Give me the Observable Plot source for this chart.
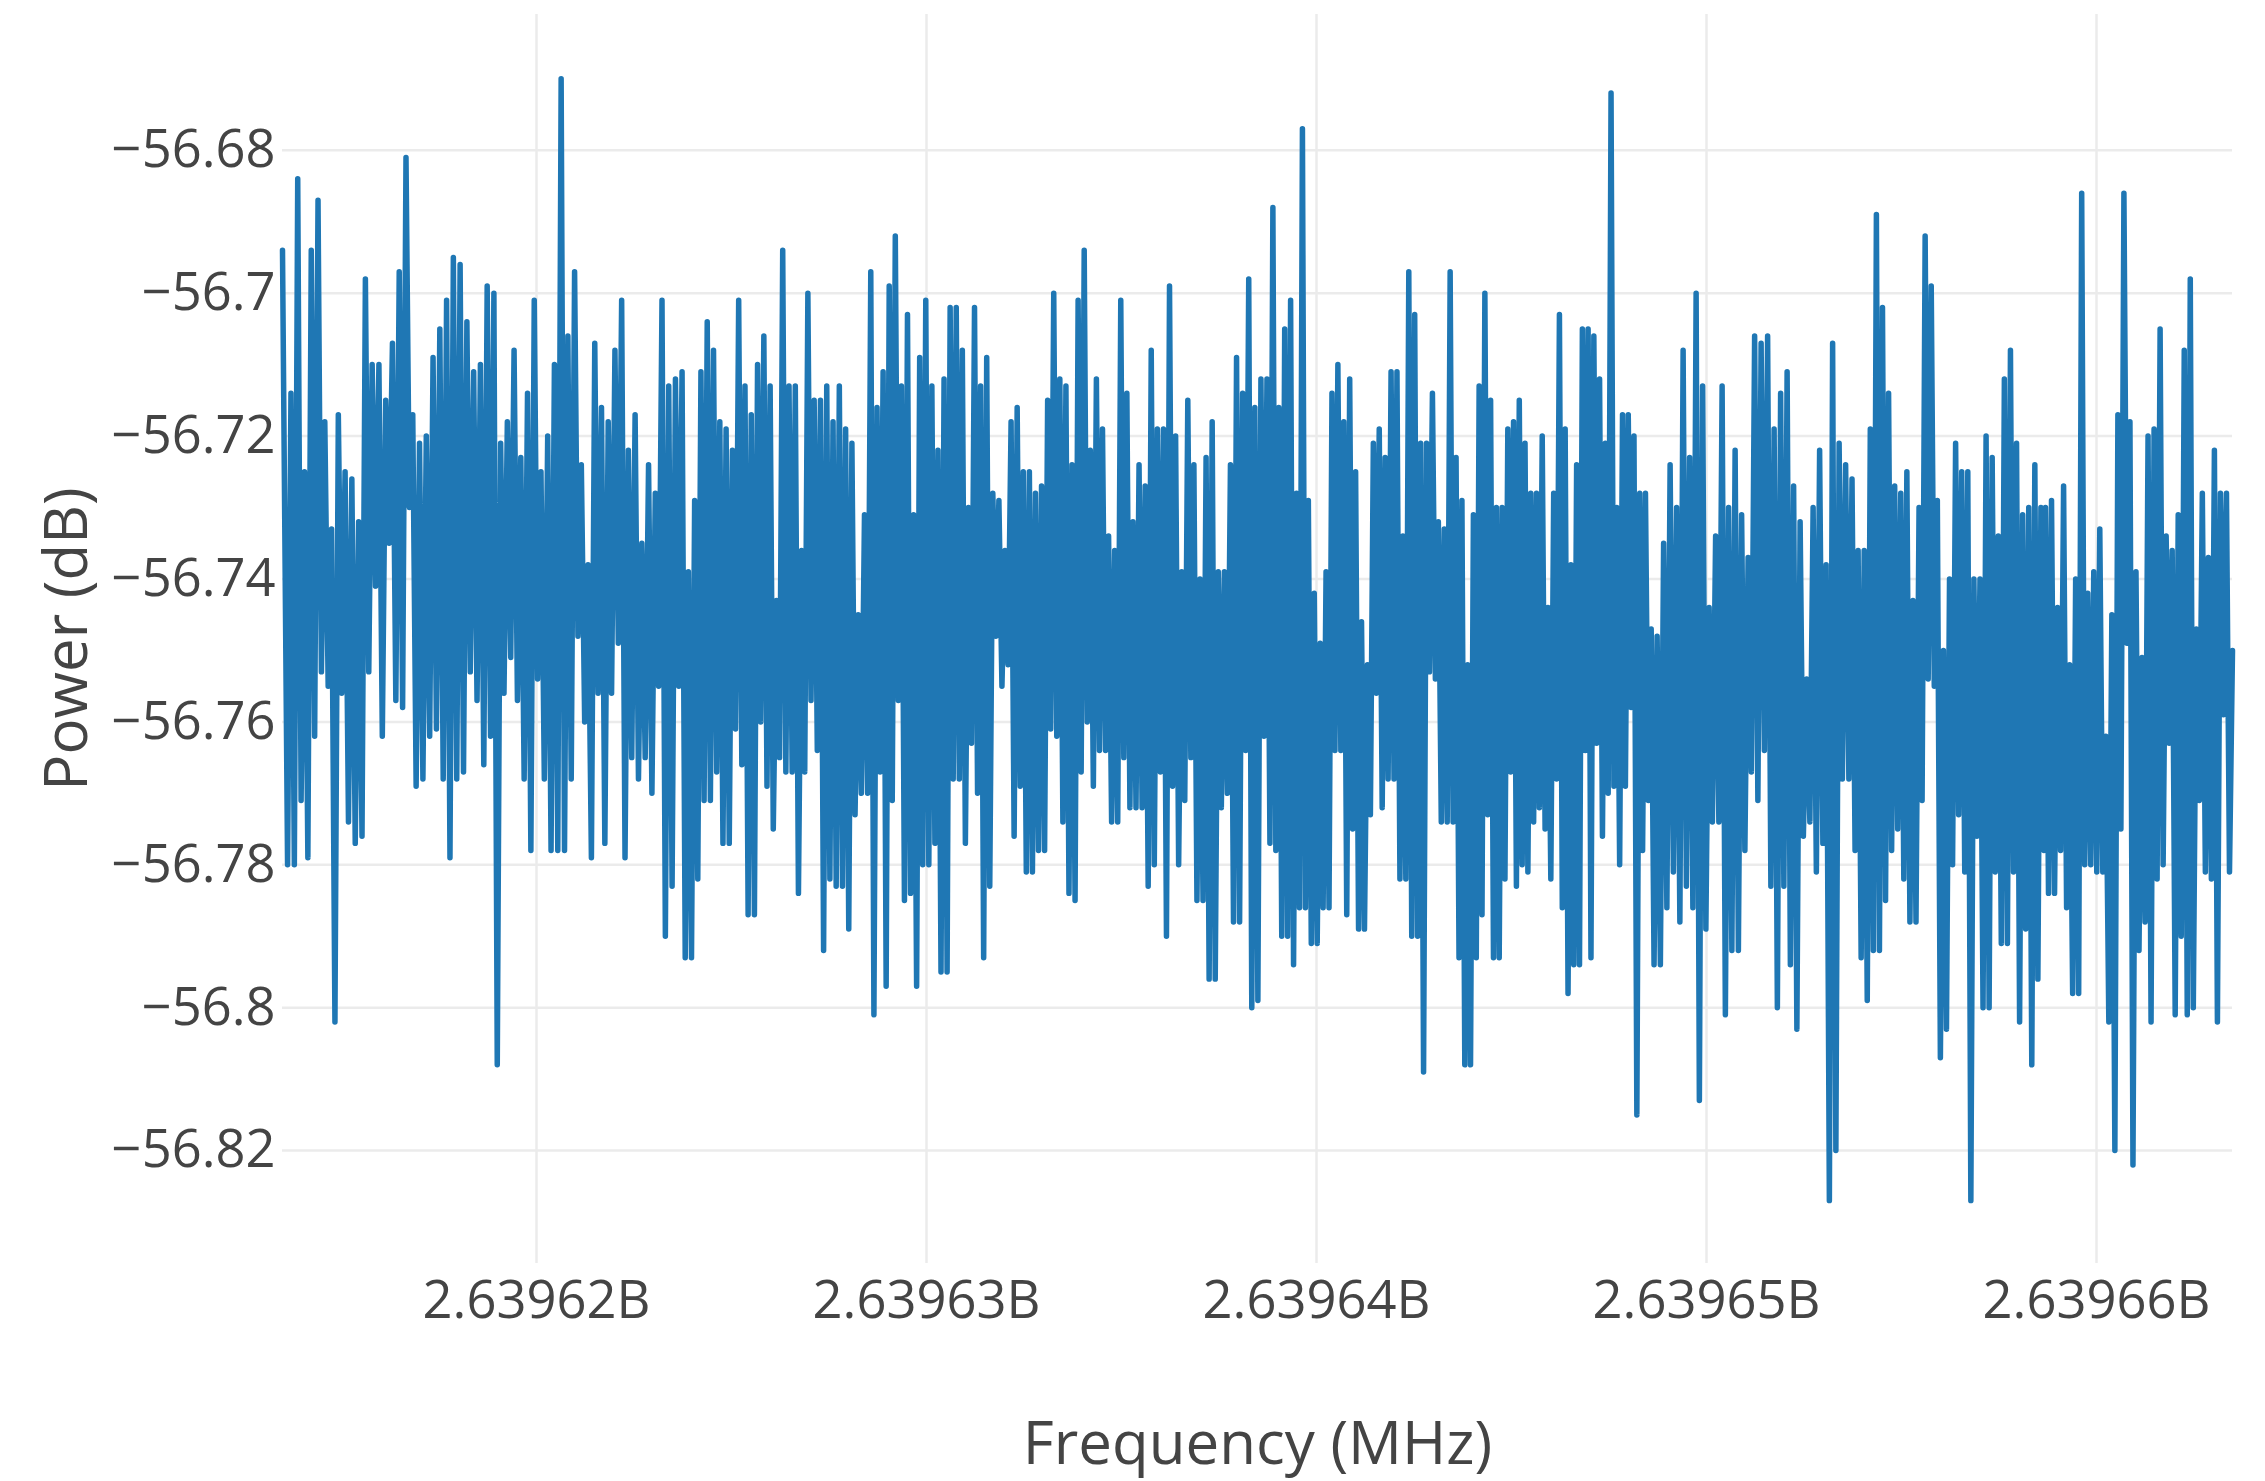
<!DOCTYPE html>
<html><head><meta charset="utf-8">
<script src="https://cdn.jsdelivr.net/npm/d3@7"></script>
<script src="https://cdn.jsdelivr.net/npm/@observablehq/plot@0.6"></script>
<style>body{margin:0;background:#fff;}</style>
</head><body><div id="chart"></div>
<script>
// Frequency band edges (Hz) of the ten stretches read below; samples are evenly spaced within each band
const bandEdges = [2639613487, 2639618692, 2639623692, 2639628692, 2639633692, 2639638692,
  2639643692, 2639648692, 2639653692, 2639658692, 2639663487];

// Power (dB), read left to right from the picture, in ten bands
const seg1 = [-56.694,-56.780,-56.714,-56.780,-56.684,-56.771,-56.725,-56.779,-56.694,-56.762,
-56.687,-56.753,-56.718,-56.755,-56.733,-56.802,-56.717,-56.756,-56.725,-56.774,
-56.726,-56.777,-56.732,-56.776,-56.698,-56.753,-56.710,-56.741,-56.710,-56.762,
-56.715,-56.735,-56.707,-56.757,-56.697,-56.758,-56.681,-56.730,-56.717,-56.769,
-56.721,-56.768,-56.720,-56.762,-56.709,-56.761,-56.705,-56.768,-56.701,-56.779,
-56.695,-56.768,-56.696,-56.767,-56.704,-56.753,-56.711,-56.757,-56.710,-56.766];
const seg2 = [-56.699,-56.762,-56.700,-56.808,-56.721,-56.756,-56.718,-56.751,-56.708,-56.757,
-56.723,-56.768,-56.714,-56.778,-56.701,-56.754,-56.725,-56.768,-56.720,-56.778,
-56.710,-56.778,-56.670,-56.778,-56.706,-56.768,-56.697,-56.748,-56.724,-56.760,
-56.738,-56.779,-56.707,-56.756,-56.716,-56.777,-56.718,-56.756,-56.708,-56.749,
-56.701,-56.779,-56.722,-56.765,-56.717,-56.768,-56.735,-56.765,-56.724,-56.770,
-56.728,-56.755,-56.701,-56.790,-56.713,-56.783,-56.712,-56.755];
const seg3 = [-56.711,-56.793,-56.739,-56.793,-56.729,-56.782,-56.711,-56.771,-56.704,-56.771,
-56.708,-56.767,-56.718,-56.777,-56.719,-56.777,-56.722,-56.761,-56.701,-56.766,
-56.713,-56.787,-56.717,-56.787,-56.710,-56.760,-56.706,-56.769,-56.713,-56.775,
-56.743,-56.765,-56.694,-56.767,-56.713,-56.767,-56.713,-56.784,-56.736,-56.767,
-56.700,-56.757,-56.715,-56.764,-56.715,-56.792,-56.713,-56.782,-56.718,-56.783,
-56.713,-56.783,-56.719,-56.789,-56.721,-56.773,-56.745,-56.770,-56.731,-56.770,
-56.697,-56.801];
const seg4 = [-56.716,-56.767,-56.711,-56.797,-56.699,-56.771,-56.692,-56.757,-56.713,-56.785,
-56.703,-56.784,-56.731,-56.797,-56.709,-56.780,-56.701,-56.780,-56.713,-56.777,
-56.722,-56.795,-56.712,-56.795,-56.702,-56.768,-56.702,-56.768,-56.708,-56.777,
-56.730,-56.763,-56.702,-56.770,-56.713,-56.793,-56.709,-56.783,-56.728,-56.748,
-56.729,-56.755,-56.736,-56.752,-56.718,-56.776,-56.716,-56.769,-56.725,-56.781,
-56.725,-56.781,-56.728,-56.778,-56.727,-56.778,-56.715,-56.761,-56.700,-56.762,
-56.712,-56.774,-56.713,-56.784];
const seg5 = [-56.724,-56.785,-56.701,-56.767,-56.694,-56.760,-56.722,-56.769,-56.712,-56.764,
-56.719,-56.764,-56.734,-56.774,-56.736,-56.774,-56.701,-56.765,-56.714,-56.772,
-56.732,-56.772,-56.724,-56.772,-56.727,-56.783,-56.708,-56.780,-56.719,-56.767,
-56.719,-56.790,-56.699,-56.769,-56.720,-56.780,-56.739,-56.771,-56.715,-56.765,
-56.724,-56.785,-56.740,-56.785,-56.723,-56.796,-56.718,-56.796,-56.739,-56.772,
-56.739,-56.770,-56.724,-56.788,-56.709,-56.788,-56.714,-56.764,-56.698,-56.800,
-56.716,-56.799,-56.712,-56.762];
const seg6 = [-56.712,-56.777,-56.688,-56.778,-56.716,-56.790,-56.705,-56.790,-56.701,-56.794,
-56.728,-56.786,-56.677,-56.786,-56.729,-56.791,-56.742,-56.791,-56.749,-56.786,
-56.739,-56.786,-56.714,-56.764,-56.710,-56.764,-56.718,-56.787,-56.712,-56.775,
-56.725,-56.789,-56.746,-56.789,-56.752,-56.773,-56.721,-56.756,-56.719,-56.772,
-56.723,-56.768,-56.711,-56.768,-56.711,-56.782,-56.734,-56.782,-56.697,-56.790,
-56.703,-56.790,-56.721,-56.809,-56.721,-56.753,-56.714,-56.754,-56.732,-56.774,
-56.733,-56.774,-56.697,-56.774,-56.723,-56.793];
const seg7 = [-56.729,-56.808,-56.752,-56.808,-56.731,-56.793,-56.713,-56.787,-56.700,-56.773,
-56.715,-56.793,-56.730,-56.793,-56.730,-56.782,-56.719,-56.767,-56.718,-56.783,
-56.715,-56.780,-56.721,-56.781,-56.728,-56.774,-56.728,-56.772,-56.720,-56.775,
-56.744,-56.782,-56.728,-56.768,-56.703,-56.786,-56.719,-56.798,-56.738,-56.794,
-56.724,-56.794,-56.705,-56.764,-56.705,-56.793,-56.706,-56.763,-56.712,-56.776,
-56.721,-56.770,-56.672,-56.769,-56.730,-56.780,-56.717,-56.769,-56.717,-56.758,
-56.720,-56.815,-56.728,-56.778,-56.728,-56.771,-56.747,-56.794];
const seg8 = [-56.748,-56.794,-56.735,-56.786,-56.724,-56.781,-56.730,-56.788,-56.708,-56.783,
-56.723,-56.786,-56.700,-56.813,-56.713,-56.789,-56.744,-56.774,-56.734,-56.774,
-56.713,-56.801,-56.730,-56.792,-56.722,-56.792,-56.731,-56.778,-56.737,-56.767,
-56.706,-56.771,-56.707,-56.764,-56.706,-56.783,-56.719,-56.800,-56.714,-56.783,
-56.711,-56.794,-56.727,-56.803,-56.732,-56.776,-56.754,-56.774,-56.730,-56.781,
-56.722,-56.777,-56.738,-56.827,-56.707,-56.820,-56.721,-56.768,-56.724,-56.768];
const seg9 = [-56.726,-56.778,-56.736,-56.793,-56.736,-56.799,-56.719,-56.792,-56.689,-56.792,
-56.702,-56.785,-56.714,-56.778,-56.727,-56.775,-56.728,-56.782,-56.725,-56.788,
-56.743,-56.788,-56.730,-56.771,-56.692,-56.754,-56.699,-56.755,-56.729,-56.807,
-56.750,-56.803,-56.740,-56.780,-56.721,-56.773,-56.725,-56.781,-56.725,-56.827,
-56.740,-56.776,-56.740,-56.800,-56.720,-56.800,-56.723,-56.781,-56.734,-56.791,
-56.712,-56.791,-56.708,-56.781,-56.721,-56.802,-56.731,-56.789,-56.730,-56.808,
-56.724,-56.796,-56.730,-56.778];
const seg10 = [-56.730,-56.784,-56.729,-56.784,-56.744,-56.778,-56.727,-56.786,-56.752,-56.798,
-56.740,-56.798,-56.686,-56.780,-56.742,-56.780,-56.739,-56.781,-56.733,-56.781,
-56.762,-56.802,-56.745,-56.820,-56.717,-56.775,-56.686,-56.749,-56.718,-56.822,
-56.739,-56.792,-56.751,-56.788,-56.720,-56.802,-56.719,-56.782,-56.705,-56.780,
-56.734,-56.763,-56.736,-56.801,-56.731,-56.790,-56.708,-56.801,-56.698,-56.800,
-56.747,-56.771,-56.728,-56.781,-56.737,-56.782,-56.722,-56.802,-56.728,-56.759,
-56.728,-56.781,-56.750];

const xTicks = [2639620000, 2639630000, 2639640000, 2639650000, 2639660000];
const xTickLabels = ["2.63962B", "2.63963B", "2.63964B", "2.63965B", "2.63966B"];
const yTicks = [-56.68, -56.7, -56.72, -56.74, -56.76, -56.78, -56.8, -56.82];
const yTickLabels = ["\u221256.68", "\u221256.7", "\u221256.72", "\u221256.74", "\u221256.76", "\u221256.78", "\u221256.8", "\u221256.82"];
const xTitle = "Frequency (MHz)";
const yTitle = "Power (dB)";

const segments = [seg1, seg2, seg3, seg4, seg5, seg6, seg7, seg8, seg9, seg10];
const data = [];
segments.forEach((seg, k) => {
  const a = bandEdges[k], b = bandEdges[k + 1];
  const last = k === segments.length - 1;
  const m = seg.length;
  seg.forEach((p, i) => {
    const t = last ? i / (m - 1) : (i + 0.5) / m;
    data.push({freq: a + (b - a) * t, power: p});
  });
});
data[0].freq = bandEdges[0];

const chart = Plot.plot({
  width: 2265,
  height: 1481,
  marginLeft: 282,
  marginRight: 33,
  marginTop: 14,
  marginBottom: 218,
  style: {fontFamily: "'Open Sans', sans-serif", background: "#fff", color: "#444"},
  x: {domain: [bandEdges[0], bandEdges[bandEdges.length - 1]]},
  y: {domain: [-56.8358, -56.6610]},
  marks: [
    Plot.gridX(xTicks, {stroke: "#ebebeb", strokeOpacity: 1, strokeWidth: 2.5}),
    Plot.gridY(yTicks, {stroke: "#ebebeb", strokeOpacity: 1, strokeWidth: 2.5}),
    Plot.line(data, {x: "freq", y: "power", stroke: "#1f77b4", strokeWidth: 5.5, strokeLinejoin: "round"}),
    Plot.axisX(xTicks, {tickSize: 0, tickPadding: 17, fontSize: 52.5, fill: "#444",
      tickFormat: d => xTickLabels[xTicks.indexOf(d)], label: null}),
    Plot.axisY(yTicks, {tickSize: 0, tickPadding: 7, fontSize: 52.5, fill: "#444",
      tickFormat: d => yTickLabels[yTicks.indexOf(d)], label: null}),
    Plot.text([xTitle], {text: d => d, frameAnchor: "bottom", textAnchor: "middle", lineAnchor: "bottom", dy: 200, fontSize: 60, fill: "#444"}),
    Plot.text([yTitle], {text: d => d, frameAnchor: "left", textAnchor: "middle", rotate: -90, lineAnchor: "middle", dx: -215, fontSize: 60, fill: "#444"})
  ]
});
document.getElementById("chart").appendChild(chart);
</script>
</body></html>
